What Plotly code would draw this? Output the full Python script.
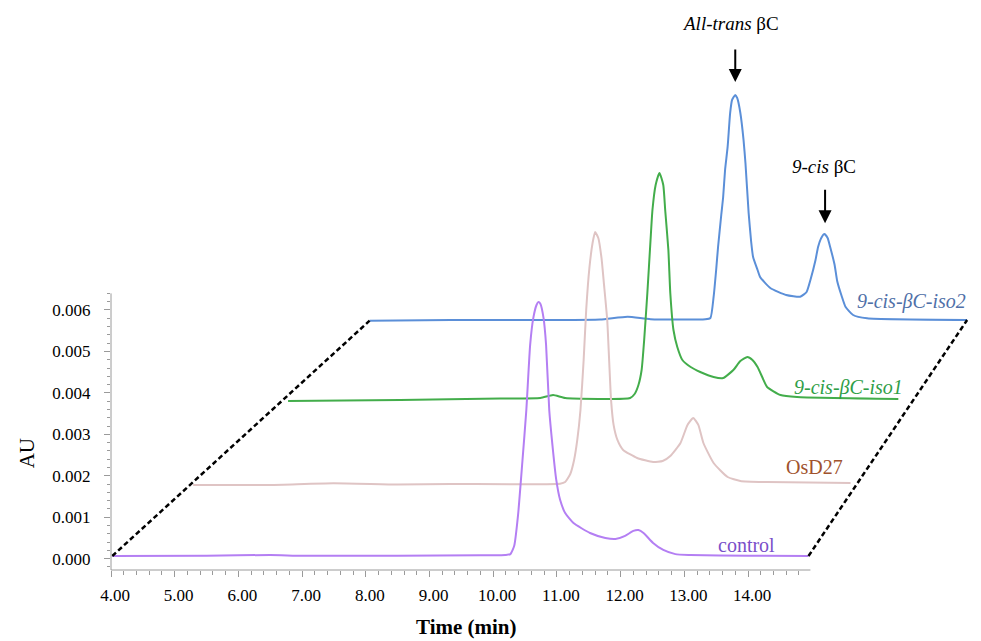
import plotly.graph_objects as go

# ---------------- data ----------------
# time (min) on the shared axis, absorbance (AU) as displayed
control_time = [4.02, 5.50, 6.50, 7.00, 8.50, 9.80, 10.19, 10.27, 10.33, 10.39, 10.46, 10.52,
                10.58, 10.63, 10.68, 10.71, 10.74, 10.79, 10.83, 10.88, 10.93, 10.99, 11.05,
                11.13, 11.26, 11.52, 11.76, 11.92, 12.07, 12.20, 12.28, 12.36, 12.51, 12.67,
                12.86, 13.09, 14.00, 14.95]
control_au = [0.000065, 0.00007, 0.00009, 0.00007, 0.00007, 0.00008, 0.00009, 0.00011, 0.00031,
              0.00105, 0.00238, 0.00358, 0.00516, 0.00581, 0.00612, 0.00619, 0.00615, 0.00581,
              0.00516, 0.00358, 0.00274, 0.00190, 0.00142, 0.00110, 0.00086, 0.00062, 0.00050,
              0.000475, 0.00055, 0.00067, 0.00069, 0.00062, 0.00038, 0.00021, 0.00011, 0.00009,
              0.00007, 0.000065]

osd27_time = [5.29, 6.50, 7.49, 8.50, 9.33, 11.05, 11.13, 11.21, 11.27, 11.32, 11.37, 11.42,
              11.46, 11.51, 11.56, 11.60, 11.65, 11.70, 11.74, 11.79, 11.82, 11.85, 11.89,
              11.95, 12.04, 12.26, 12.51, 12.66, 12.78, 12.94, 13.05, 13.14, 13.22, 13.30,
              13.46, 13.68, 13.88, 14.30, 15.61]
osd27_au = [0.001776, 0.00178, 0.00182, 0.00179, 0.00180, 0.001810, 0.001848, 0.002043,
            0.002381, 0.002864, 0.003588, 0.004794, 0.005999, 0.007013, 0.007616, 0.007882,
            0.007737, 0.007255, 0.006604, 0.005760, 0.004794, 0.003830, 0.003227, 0.002864,
            0.002623, 0.002430, 0.002333, 0.002357, 0.002478, 0.002791, 0.003227, 0.003395,
            0.003227, 0.002791, 0.002309, 0.001971, 0.001875, 0.001848, 0.001824]

iso1_time = [6.78, 8.54, 10.11, 10.74, 10.94, 11.13, 12.15, 12.22, 12.28, 12.33, 12.37, 12.42,
             12.47, 12.50, 12.55, 12.61, 12.67, 12.70, 12.75, 12.78, 12.83, 12.89, 12.97,
             13.10, 13.25, 13.46, 13.61, 13.77, 13.88, 13.99, 14.07, 14.15, 14.23, 14.30,
             14.51, 14.77, 16.36]
iso1_au = [0.003805, 0.003829, 0.003865, 0.003877, 0.003949, 0.003877, 0.003877, 0.003973,
           0.004190, 0.004552, 0.005276, 0.006410, 0.007689, 0.008412, 0.009016, 0.009305,
           0.009016, 0.008412, 0.007447, 0.006410, 0.005517, 0.005107, 0.004793, 0.004624,
           0.004504, 0.004383, 0.004359, 0.004552, 0.004769, 0.004866, 0.004793, 0.004624,
           0.004359, 0.004143, 0.003949, 0.003901, 0.003853]

iso2_time = [8.06, 9.33, 10.90, 11.68, 12.11, 12.47, 13.33, 13.41, 13.46, 13.50, 13.53, 13.58,
             13.61, 13.64, 13.68, 13.72, 13.75, 13.80, 13.83, 13.88, 13.93, 13.96, 14.01,
             14.05, 14.08, 14.15, 14.19, 14.35, 14.60, 14.82, 14.92, 14.98, 15.06, 15.10,
             15.15, 15.20, 15.25, 15.29, 15.36, 15.40, 15.47, 15.53, 15.65, 15.87, 17.44]
iso2_au = [0.005742, 0.005759, 0.005759, 0.005771, 0.005838, 0.005776, 0.005776, 0.005807,
           0.006314, 0.006965, 0.007520, 0.008292, 0.008726, 0.009378, 0.009933, 0.010753,
           0.011067, 0.011188, 0.011115, 0.010753, 0.010102, 0.009547, 0.008341, 0.007640,
           0.007278, 0.006965, 0.006796, 0.006531, 0.006362, 0.006321, 0.006434, 0.006724,
           0.007206, 0.007520, 0.007737, 0.007833, 0.007737, 0.007520, 0.007085, 0.006700,
           0.006338, 0.006080, 0.005879, 0.005800, 0.005759]

series_names = ["9-cis-βC-iso2", "9-cis-βC-iso1", "OsD27", "control"]
x_tick_values = [4, 5, 6, 7, 8, 9, 10, 11, 12, 13, 14]
y_tick_values = [0.000, 0.001, 0.002, 0.003, 0.004, 0.005, 0.006]

# ---------------- figure ----------------
FONT = "Liberation Serif"
AXIS_GREY = "#9a9a9a"
X_END = 14.98
Y_BOTTOM = -0.000273
Y_TOP_AXIS = 0.0064
PX_PER_MIN = 63.7
PX_PER_AU = 41450

M_L, M_R, M_T, M_B = 103, 14, 2, 79
PLOT_W = 981 - M_L - M_R
PLOT_H = 641 - M_T - M_B

fig = go.Figure()

series = [
    (iso2_time, iso2_au, "#5b8fd8", series_names[0]),
    (iso1_time, iso1_au, "#43ad4b", series_names[1]),
    (osd27_time, osd27_au, "#dfc4c4", series_names[2]),
    (control_time, control_au, "#b47ff3", series_names[3]),
]
for t, a, col, name in series:
    fig.add_trace(go.Scatter(
        x=t, y=a, mode="lines", name=name,
        line=dict(color=col, width=2, shape="spline", smoothing=0.5),
        hoverinfo="skip"))

# dashed guides linking the first and last points of the front and back traces
for idx in (0, -1):
    fig.add_trace(go.Scatter(
        x=[control_time[idx], iso2_time[idx]],
        y=[control_au[idx], iso2_au[idx]],
        mode="lines", line=dict(color="black", width=2.5, dash="5px,3px"),
        hoverinfo="skip"))

# axis lines (only over the labelled span)
fig.add_shape(type="line", xref="x", yref="paper", x0=4, x1=X_END, y0=0, y1=0,
              line=dict(color=AXIS_GREY, width=1))
fig.add_shape(type="line", xref="paper", yref="y", x0=0, x1=0, y0=Y_BOTTOM, y1=Y_TOP_AXIS,
              line=dict(color=AXIS_GREY, width=1))

minor_x = [round(4 + 0.2 * i, 2) for i in range(0, 55)]
minor_y = [round(-0.0002 + 0.0002 * i, 5) for i in range(0, 34)]

fig.update_xaxes(
    range=[4, 4 + PLOT_W / PX_PER_MIN], showline=False, showgrid=False, zeroline=False,
    tickmode="array", tickvals=x_tick_values,
    ticktext=[f"{v:.2f}" for v in x_tick_values],
    ticks="outside", ticklen=6, tickwidth=1, tickcolor=AXIS_GREY,
    ticklabelstandoff=4, ticklabelshift=4,
    tickfont=dict(family=FONT, size=17, color="black"),
    minor=dict(tickvals=minor_x, ticks="outside", ticklen=3.5, tickcolor=AXIS_GREY, tickwidth=1),
)
fig.update_yaxes(
    range=[Y_BOTTOM, Y_BOTTOM + PLOT_H / PX_PER_AU], showline=False, showgrid=False,
    zeroline=False,
    tickmode="array", tickvals=y_tick_values,
    ticktext=[f"{v:.3f}" for v in y_tick_values],
    ticks="outside", ticklen=6, tickwidth=1, tickcolor=AXIS_GREY,
    ticklabelstandoff=10,
    tickfont=dict(family=FONT, size=17, color="black"),
    minor=dict(tickvals=minor_y, ticks="outside", ticklen=3.5, tickcolor=AXIS_GREY, tickwidth=1),
)

annotations = [
    # axis titles
    dict(text="AU", xref="paper", yref="paper", x=-0.0968, y=0.209, showarrow=False,
         xanchor="center", yanchor="middle",
         textangle=-90, font=dict(family=FONT, size=21, color="black")),
    dict(text="<b>Time (min)</b>", xref="paper", yref="paper", x=0.412, y=-0.102,
         xanchor="center", yanchor="middle",
         showarrow=False, font=dict(family=FONT, size=21, color="black")),
    # peak labels
    dict(text="<i>All-trans</i> βC", x=13.73, y=0.01292, showarrow=False,
         font=dict(family=FONT, size=19, color="black")),
    dict(text="<i>9-cis</i> βC", x=15.19, y=0.00945, showarrow=False,
         font=dict(family=FONT, size=19, color="black")),
    dict(text="", x=13.80, y=0.01150, ax=0, ay=-34, showarrow=True, arrowhead=2,
         arrowsize=1.3, arrowwidth=2, arrowcolor="black"),
    dict(text="", x=15.21, y=0.00809, ax=0, ay=-35, showarrow=True, arrowhead=2,
         arrowsize=1.3, arrowwidth=2, arrowcolor="black"),
    # sample labels
    dict(text="<i>9-cis-βC-iso2</i>", x=16.57, y=0.006193, showarrow=False,
         font=dict(family=FONT, size=20, color="#4f70a8")),
    dict(text="<i>9-cis-βC-iso1</i>", x=15.57, y=0.004142, showarrow=False,
         font=dict(family=FONT, size=20, color="#2f9e47")),
    dict(text="OsD27", x=15.04, y=0.002212, showarrow=False,
         font=dict(family=FONT, size=20, color="#a0522d")),
    dict(text="control", x=13.97, y=0.000331, showarrow=False,
         font=dict(family=FONT, size=20, color="#7a4fc9")),
]

fig.update_layout(
    width=981, height=641,
    margin=dict(l=M_L, r=M_R, t=M_T, b=M_B),
    paper_bgcolor="white", plot_bgcolor="white",
    showlegend=False,
    annotations=annotations,
)

fig.write_html("out.html")
